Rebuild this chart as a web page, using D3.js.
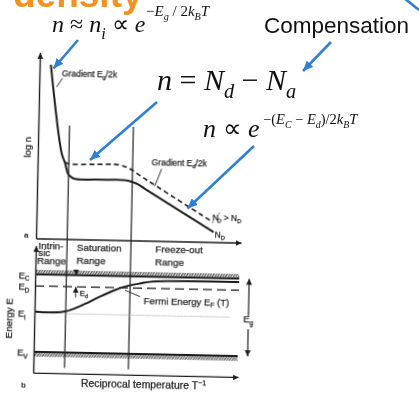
<!DOCTYPE html>
<html><head><meta charset="utf-8">
<script src="https://cdn.jsdelivr.net/npm/d3@7"></script>
<style>html,body{margin:0;padding:0;background:#fff;overflow:hidden}</style>
</head><body><svg id="c" width="419" height="394"></svg>
<script>
// ---- data (reciprocal temperature in arbitrary units 0..10) ----
const rangeBounds = [1.53, 4.66];            // intrinsic | saturation | freeze-out
// log n for donor concentration N_D (solid curve)
const logN_x  = [0.55, 1.17, 1.34, 1.51, 1.67, 1.85, 2.9, 4.4, 4.9, 5.35, 8.7];
const logN_y  = [9.35, 4.6, 4.1, 3.5, 3.33, 3.24, 3.22, 3.21, 3.04, 2.74, 0.53];
// log n for higher concentration N'_D > N_D (dashed curve)
const logN2_x = [1.34, 1.55, 2.8, 4.0, 4.53, 5.03, 8.66];
const logN2_y = [4.11, 4.04, 4.04, 4.04, 3.84, 3.49, 1.06];
// band levels in units of the gap (E_V = 0, E_C = 1)
const levelNames  = ["C", "D", "i", "V"];
const levelValues = [1, 0.85, 0.5, 0];
// Fermi energy E_F(T)
const fermi_x = [0, 1.42, 2.38, 3.2, 3.84, 4.33, 5.14, 5.78, 10];
const fermi_y = [0.52, 0.525, 0.62, 0.73, 0.81, 0.86, 0.91, 0.94, 0.955];

const svg = d3.select("#c");
const INK = "#1e1e1e";
const BLUE = "#2f7fd6";
const SANS = "Liberation Sans, Arial, sans-serif";
const SERIF = "Liberation Serif, Times New Roman, serif";

const defs = svg.append("defs");
defs.append("marker").attr("id","ah").attr("viewBox","0 0 6 6").attr("refX",6).attr("refY",3)
  .attr("markerWidth",6).attr("markerHeight",6).attr("markerUnits","userSpaceOnUse").attr("orient","auto")
  .append("path").attr("d","M0,0L6,3L0,6Z").attr("fill",INK);
defs.append("marker").attr("id","bh").attr("viewBox","0 0 10 9").attr("refX",10).attr("refY",4.5)
  .attr("markerWidth",10).attr("markerHeight",9).attr("markerUnits","userSpaceOnUse").attr("orient","auto")
  .append("path").attr("d","M0,0L10,4.5L0,9Z").attr("fill",BLUE);
const pat = defs.append("pattern").attr("id","hatch").attr("width",2.6).attr("height",4)
  .attr("patternUnits","userSpaceOnUse");
pat.append("path").attr("d","M-0.6,4.5L2.2,-0.5M2,4.5L4.8,-0.5").attr("stroke","#222").attr("stroke-width",1);
const blur = defs.append("filter").attr("id","soft");
blur.append("feGaussianBlur").attr("stdDeviation",0.2);

// rich text helper: parts = [text, {i, sub, sup, dx}]
function rich(g, x, y, size, family, parts, anchor) {
  const t = g.append("text").attr("x",x).attr("y",y).attr("font-size",size)
    .attr("font-family",family).attr("fill", g === svg ? "#111" : INK);
  if (g !== svg) t.attr("stroke", INK).attr("stroke-width", 0.25);
  if (anchor) t.attr("text-anchor", anchor);
  let cur = 0;
  parts.forEach(([s, o = {}]) => {
    const shift = o.sub ? size * 0.28 : o.sup ? -size * 0.42 : 0;
    const ts = t.append("tspan").attr("dy", shift - cur).text(s);
    cur = shift;
    if (o.sub || o.sup) ts.attr("font-size", size * 0.68);
    if (o.i) ts.attr("font-style","italic");
    if (o.dx) ts.attr("dx", o.dx);
  });
  return t;
}

// ---- figure (scanned diagram, slightly tilted) ----
const fig = svg.append("g").attr("transform","rotate(1.2,140,240)").attr("filter","url(#soft)");

const x  = d3.scaleLinear([0, 10], [36, 240]);
const yN = d3.scaleLinear([0, 10], [240.5, 54.5]);
const yE = d3.scaleLinear([0, 1], [354, 276.5]);

// axes (no ticks, arrowed)
const xAx = x.copy().domain([0, 10.05]).range([36, x(10.05)]);
fig.append("g").attr("transform",`translate(0,${yN(0)})`)
  .call(d3.axisBottom(xAx).tickValues([]).tickSizeOuter(0));
fig.append("g").attr("transform",`translate(${x(0)},0)`)
  .call(d3.axisLeft(yN).tickValues([]).tickSizeOuter(0));
const yEAx = yE.copy().domain([-0.27, 1.37]).range([yE(-0.27), yE(1.37)]);
fig.append("g").attr("transform",`translate(0,${yEAx(-0.27)})`)
  .call(d3.axisBottom(xAx).tickValues([]).tickSizeOuter(0));
fig.append("g").attr("transform",`translate(${x(0)},0)`)
  .call(d3.axisLeft(yEAx).tickValues([]).tickSizeOuter(0));
fig.selectAll(".domain").attr("stroke",INK).attr("stroke-width",1.4).attr("marker-end","url(#ah)");

// range boundaries through both panels
fig.selectAll(".bound").data(rangeBounds).join("line")
  .attr("x1",d=>x(d)).attr("x2",d=>x(d)).attr("y1",yN(6.1)).attr("y2",yE(-0.2))
  .attr("stroke",INK).attr("stroke-width",1.2);

// log n curves
const lineN = d3.line().x(d=>x(d[0])).y(d=>yN(d[1])).curve(d3.curveCatmullRom.alpha(0.5));
fig.append("path").attr("d", lineN(d3.zip(logN_x, logN_y)))
  .attr("fill","none").attr("stroke",INK).attr("stroke-width",2);
fig.append("path").attr("d", lineN(d3.zip(logN2_x, logN2_y)))
  .attr("fill","none").attr("stroke",INK).attr("stroke-width",1.6).attr("stroke-dasharray","5,3.2");

// leader lines for gradient labels
const lead = (a, b, ys) => fig.append("line").attr("x1",x(a[0])).attr("y1",ys(a[1]))
  .attr("x2",x(b[0])).attr("y2",ys(b[1])).attr("stroke",INK).attr("stroke-width",0.9);
lead([0.86, 8.16], [1.14, 8.64], yN);
lead([6.09, 3.88], [5.77, 2.94], yN);

rich(fig, 58.5, 78, 8.5, SANS, [["Gradient E"],["g",{sub:1}],["/2k"]]);
rich(fig, 150, 165, 8.5, SANS, [["Gradient E"],["d",{sub:1}],["/2k"]]);
rich(fig, 212, 218.5, 8.5, SANS, [["N"],["′",{sup:1}],["D",{sub:1,dx:-2.5}],[" > N"],["D",{sub:1}]]);
rich(fig, 214.5, 235.5, 8.5, SANS, [["N"],["D",{sub:1}]]);
fig.append("text").attr("transform","translate(29,149.5) rotate(-90)").attr("text-anchor","middle")
  .attr("font-family",SANS).attr("font-size",9.5).attr("fill",INK).attr("stroke",INK).attr("stroke-width",0.25).text("log n");
fig.append("text").attr("x",24).attr("y",240).attr("font-family",SANS).attr("font-weight","bold")
  .attr("font-size",8).attr("fill",INK).text("a");

// range labels
const lab = (tx, ty, s) => fig.append("text").attr("x",tx).attr("y",ty).attr("font-family",SANS)
  .attr("font-size",9.8).attr("fill",INK).attr("stroke",INK).attr("stroke-width",0.25).text(s);
lab(38.5, 251.3, "Intrin-"); lab(38.5, 258, "sic"); lab(37.5, 265.5, "Range");
lab(77, 252.3, "Saturation"); lab(77, 264.8, "Range");
lab(155.5, 251.7, "Freeze-out"); lab(155.5, 265, "Range");

// band edges with hatching
fig.append("rect").attr("x",x(0)).attr("width",x(10)-x(0)).attr("y",yE(1)-4.6).attr("height",4)
  .attr("fill","url(#hatch)");
fig.append("rect").attr("x",x(0)).attr("width",x(10)-x(0)).attr("y",yE(0)+0.8).attr("height",4)
  .attr("fill","url(#hatch)");
fig.selectAll(".lvl").data(levelValues).join("line")
  .attr("x1",(d,i)=> levelNames[i]==="i" ? x(1.6) : x(0))
  .attr("x2",(d,i)=> levelNames[i]==="i" ? x(9.6) : x(10))
  .attr("y1",d=>yE(d)).attr("y2",d=>yE(d))
  .attr("stroke",(d,i)=> levelNames[i]==="i" ? "#888" : INK)
  .attr("stroke-width",(d,i)=> levelNames[i]==="i" ? 0.9 : levelNames[i]==="D" ? 1.4 : 1.8)
  .attr("stroke-dasharray",(d,i)=> levelNames[i]==="D" ? "9,5" : levelNames[i]==="i" ? "1,1.3" : null);
levelNames.forEach((n, i) => rich(fig, 19.5, yE(levelValues[i]) + 4, 9.5, SANS, [["E"],[n,{sub:1}]]));

// Fermi energy
const lineE = d3.line().x(d=>x(d[0])).y(d=>yE(d[1])).curve(d3.curveCatmullRom.alpha(0.5));
fig.append("path").attr("d", lineE(d3.zip(fermi_x, fermi_y)))
  .attr("fill","none").attr("stroke",INK).attr("stroke-width",2);
lead([5.16, 0.74], [4.41, 0.82], yE);
rich(fig, 145, 303.5, 9.6, SANS, [["Fermi Energy E"],["F",{sub:1}],[" (T)"]]);

// E_d marker between E_C and E_D
fig.append("line").attr("x1",x(2)).attr("x2",x(2)).attr("y1",yE(1.07)).attr("y2",yE(1))
  .attr("stroke",INK).attr("stroke-width",0.9).attr("marker-end","url(#ah)");
fig.append("line").attr("x1",x(2)).attr("x2",x(2)).attr("y1",yE(0.71)).attr("y2",yE(0.85))
  .attr("stroke",INK).attr("stroke-width",0.9).attr("marker-end","url(#ah)");
rich(fig, x(2) + 4, 297, 8, SANS, [["E"],["d",{sub:1}]]);

// band gap E_g
fig.append("line").attr("x1",250).attr("x2",250).attr("y1",yE(0.52)).attr("y2",yE(1))
  .attr("stroke",INK).attr("stroke-width",1.2).attr("marker-end","url(#ah)");
fig.append("line").attr("x1",250).attr("x2",250).attr("y1",yE(0.35)).attr("y2",yE(0))
  .attr("stroke",INK).attr("stroke-width",1.2).attr("marker-end","url(#ah)");
rich(fig, 245, 320, 9.5, SANS, [["E"],["g",{sub:1}]]);

fig.append("text").attr("transform","translate(14,321) rotate(-90)").attr("text-anchor","middle")
  .attr("font-family",SANS).attr("font-size",9.8).attr("fill",INK).attr("stroke",INK).attr("stroke-width",0.25).text("Energy E");
fig.append("text").attr("x",24).attr("y",390).attr("font-family",SANS).attr("font-weight","bold")
  .attr("font-size",8).attr("fill",INK).text("b");
rich(fig, 84, 388, 10.4, SANS, [["Reciprocal temperature T"],["−1",{sup:1}]]);

// ---- slide overlays ----
svg.append("text").attr("x",13).attr("y",7).attr("font-family",SANS).attr("font-weight","bold")
  .attr("font-size",37).attr("fill","#f5921e").text("density");
rich(svg, 52, 32, 24, SERIF, [["n",{i:1}],[" ≈ "],["n",{i:1}],["i",{i:1,sub:1}],[" ∝ "],["e",{i:1}]]);
rich(svg, 146, 16, 15, SERIF, [["−"],["E",{i:1}],["g",{i:1,sub:1}],[" / 2"],["k",{i:1}],["B",{i:1,sub:1}],["T",{i:1}]]);
rich(svg, 157, 90, 30, SERIF, [["n",{i:1}],[" = "],["N",{i:1}],["d",{i:1,sub:1}],[" − "],["N",{i:1}],["a",{i:1,sub:1}]]);
rich(svg, 203, 137, 26, SERIF, [["n",{i:1}],[" ∝ "],["e",{i:1}]]);
rich(svg, 263, 124, 14.5, SERIF, [["−("],["E",{i:1}],["C",{i:1,sub:1}],[" − "],["E",{i:1}],["d",{i:1,sub:1}],[")/2"],["k",{i:1}],["B",{i:1,sub:1}],["T",{i:1}]]);
svg.append("text").attr("x",264).attr("y",33).attr("font-family",SANS).attr("font-size",22.5)
  .attr("fill","#111").text("Compensation");

// blue pointers
const pointers = [
  [[78, 40], [53.5, 68.5]],
  [[157, 102], [90, 160]],
  [[254, 146], [187.5, 208.5]],
  [[331, 42], [303, 71]]
];
svg.selectAll(".ptr").data(pointers).join("line")
  .attr("x1",d=>d[0][0]).attr("y1",d=>d[0][1]).attr("x2",d=>d[1][0]).attr("y2",d=>d[1][1])
  .attr("stroke",BLUE).attr("stroke-width",2.6).attr("marker-end","url(#bh)");
svg.append("line").attr("x1",404).attr("y1",-2).attr("x2",419).attr("y2",10)
  .attr("stroke",BLUE).attr("stroke-width",2.6);
</script></body></html>
